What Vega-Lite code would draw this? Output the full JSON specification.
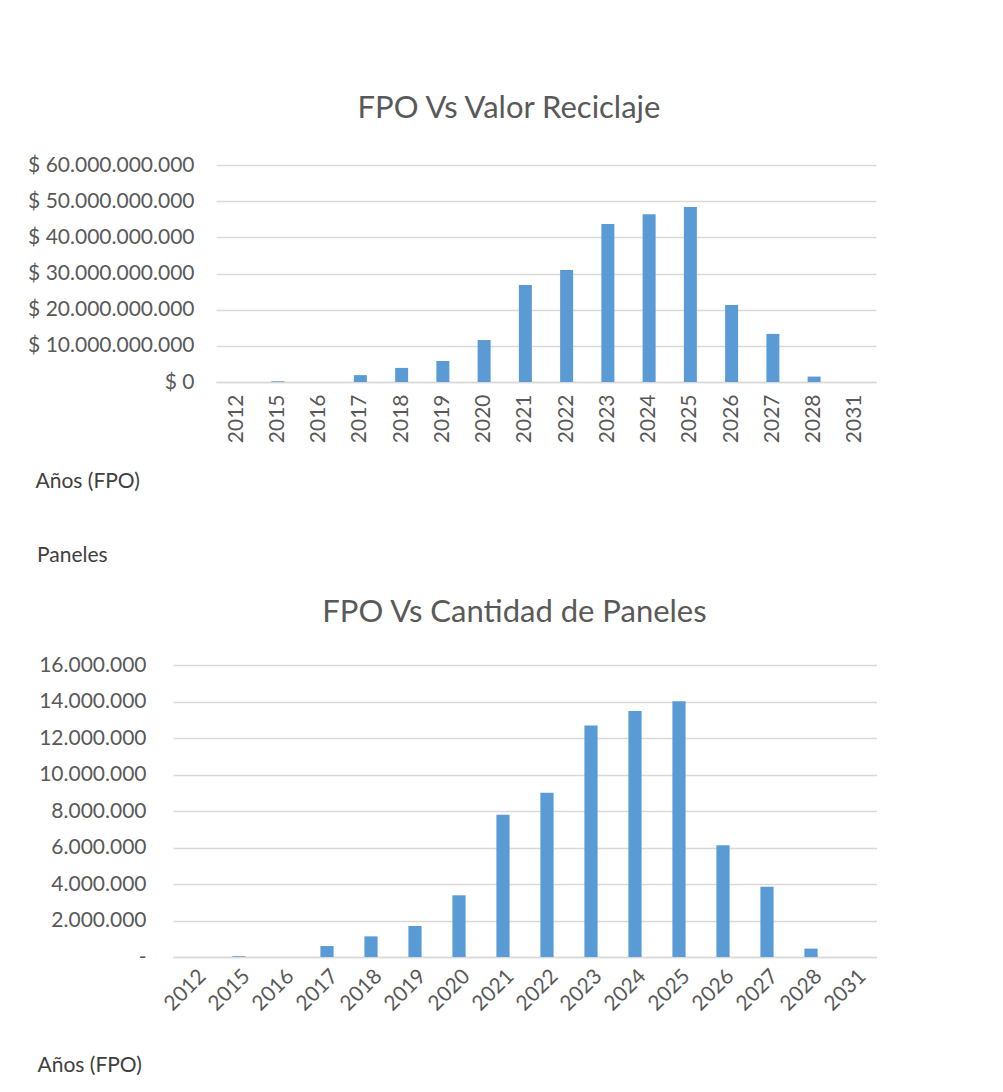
{
  "$schema": "https://vega.github.io/schema/vega-lite/v6.json",
  "background": "white",
  "padding": {"left": 0, "top": 93, "right": 0, "bottom": 0},
  "spacing": 54,
  "config": {
    "locale": {"number": {"decimal": ",", "thousands": ".", "grouping": [3], "currency": ["$ ", ""]}},
    "view": {"stroke": null},
    "font": "Lato",
    "axis": {"labelFont": "Lato", "labelFontSize": 21, "labelColor": "#595959", "titleFont": "Lato", "titleFontSize": 21, "titleColor": "#404040", "titleFontWeight": "normal", "labelOverlap": false},
    "title": {"font": "Lato", "fontSize": 31, "color": "#595959", "fontWeight": "normal"}
  },
  "datasets": {
    "fpo": [
      {"anio": "2012", "valor": 0, "paneles": 0},
      {"anio": "2015", "valor": 200000000, "paneles": 40000},
      {"anio": "2016", "valor": 0, "paneles": 0},
      {"anio": "2017", "valor": 1900000000, "paneles": 600000},
      {"anio": "2018", "valor": 3900000000, "paneles": 1130000},
      {"anio": "2019", "valor": 5800000000, "paneles": 1700000},
      {"anio": "2020", "valor": 11600000000, "paneles": 3380000},
      {"anio": "2021", "valor": 26800000000, "paneles": 7800000},
      {"anio": "2022", "valor": 31000000000, "paneles": 9000000},
      {"anio": "2023", "valor": 43700000000, "paneles": 12680000},
      {"anio": "2024", "valor": 46400000000, "paneles": 13480000},
      {"anio": "2025", "valor": 48400000000, "paneles": 14020000},
      {"anio": "2026", "valor": 21300000000, "paneles": 6130000},
      {"anio": "2027", "valor": 13300000000, "paneles": 3850000},
      {"anio": "2028", "valor": 1500000000, "paneles": 460000},
      {"anio": "2031", "valor": 0, "paneles": 0}
    ],
    "vacio": []
  },
  "vconcat": [
    {
      "spacing": 0,
      "hconcat": [
        {
          "width": 27,
          "height": 1,
          "data": {"name": "vacio"},
          "mark": {"type": "rect", "opacity": 0},
          "encoding": {}
        },
        {
          "title": {"text": "FPO Vs Valor Reciclaje", "offset": 29, "dx": -37, "frame": "group"},
          "width": 660,
          "height": 217,
          "data": {"name": "fpo"},
          "mark": {"type": "bar", "color": "#5b9bd5"},
          "encoding": {
            "x": {
              "field": "anio", "type": "ordinal", "sort": null,
              "scale": {"paddingInner": 0.685, "paddingOuter": 0.3425},
              "axis": {"title": "Años (FPO)", "labelAngle": 270, "labelPadding": 12, "ticks": false, "domainColor": "#d9d9d9", "domainWidth": 1.5,
                       "titleX": -181, "titleY": 99, "titleAlign": "left", "titleBaseline": "middle", "titleAnchor": null}
            },
            "y": {
              "field": "valor", "type": "quantitative",
              "scale": {"domain": [0, 60000000000]},
              "axis": {"title": null, "values": [0, 10000000000, 20000000000, 30000000000, 40000000000, 50000000000, 60000000000],
                       "labelExpr": "'$ ' + format(datum.value, ',.0f')", "domain": false, "ticks": false, "labelPadding": 22,
                       "gridColor": "#d9d9d9", "gridWidth": 1.5}
            }
          }
        }
      ]
    },
    {
      "spacing": 0,
      "hconcat": [
        {
          "width": 37,
          "height": 1,
          "data": {"name": "vacio"},
          "mark": {"type": "rect", "opacity": 0},
          "encoding": {}
        },
        {
          "title": {"text": "Paneles", "anchor": "start", "frame": "group", "dx": -136, "offset": 30, "fontSize": 21, "color": "#404040"},
          "width": 704,
          "height": 292,
          "data": {"name": "fpo"},
          "mark": {"type": "bar", "color": "#5b9bd5"},
          "encoding": {
            "x": {
              "field": "anio", "type": "ordinal", "sort": null,
              "scale": {"paddingInner": 0.7, "paddingOuter": 0.35},
              "axis": {"title": "Años (FPO)", "labelAngle": -45, "labelPadding": 8, "ticks": false, "domainColor": "#d9d9d9", "domainWidth": 1.5,
                       "titleX": -136, "titleY": 108, "titleAlign": "left", "titleBaseline": "middle", "titleAnchor": null}
            },
            "y": {
              "field": "paneles", "type": "quantitative",
              "scale": {"domain": [0, 16000000]},
              "axis": {"title": "FPO Vs Cantidad de Paneles", "titleAngle": 0, "titleX": 341, "titleY": -53, "titleAlign": "center", "titleBaseline": "middle", "titleAnchor": null,
                       "titleFontSize": 31, "titleColor": "#595959",
                       "values": [0, 2000000, 4000000, 6000000, 8000000, 10000000, 12000000, 14000000, 16000000],
                       "labelExpr": "datum.value == 0 ? '-' : format(datum.value, ',.0f')", "domain": false, "ticks": false, "labelPadding": 27,
                       "gridColor": "#d9d9d9", "gridWidth": 1.5}
            }
          }
        }
      ]
    }
  ]
}
